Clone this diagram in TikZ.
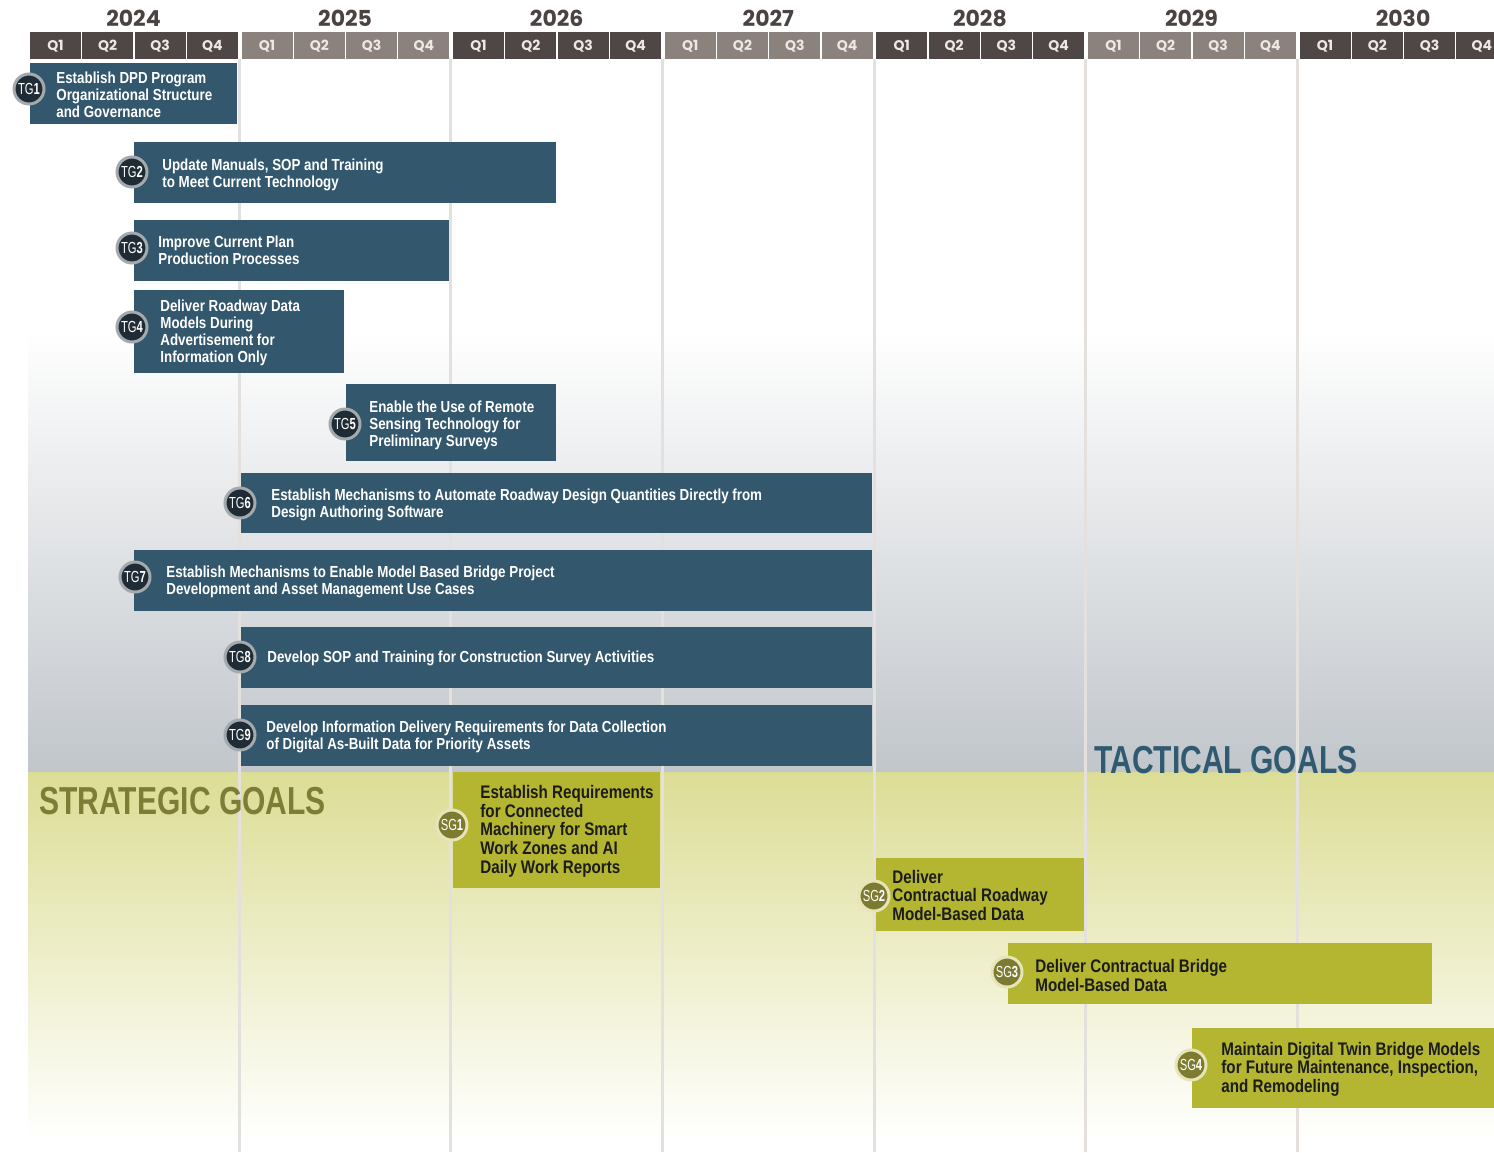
\documentclass[tikz,border=0pt]{standalone}
\usepackage{fontspec}
\setmainfont{Liberation Sans}
\newfontfamily\cond[FakeStretch=0.835]{Liberation Sans}
\newfontfamily\badgecond[FakeStretch=0.7]{Liberation Sans}
\newfontfamily\titlecond[FakeStretch=0.77]{Liberation Sans}
\newfontfamily\yearfont{Poppins}
\definecolor{tgblue}{HTML}{33576D}
\definecolor{sgolive}{HTML}{B4B631}
\definecolor{qdark}{HTML}{4E4745}
\definecolor{qlight}{HTML}{8B827E}
\definecolor{yeartext}{HTML}{4A4341}
\definecolor{tgbadgefill}{HTML}{1F2C35}
\definecolor{tgring}{HTML}{A3A9AD}
\definecolor{sgbadgefill}{HTML}{7D7B30}
\definecolor{sgring}{HTML}{E6E4B8}
\definecolor{greyband}{HTML}{C1C6CB}
\definecolor{yellowband}{HTML}{DCDD95}
\definecolor{gridcol}{HTML}{E3E0DD}
\definecolor{tacticalcol}{HTML}{2F5A70}
\definecolor{strategiccol}{HTML}{7E7D35}
\definecolor{sgtextcol}{HTML}{1C1C1C}
\definecolor{qtext}{HTML}{EDE8E4}
\tikzset{
  tgbar/.style={fill=tgblue},
  sgbar/.style={fill=sgolive},
  gridline/.style={draw=gridcol, line width=1.5pt},
  tgtext/.style={anchor=west, align=left, text=white, inner sep=0pt, yshift=-0.8pt,
    font=\cond\bfseries\fontsize{8}{8.5}\selectfont},
  sgtext/.style={anchor=west, align=left, text=sgtextcol, inner sep=0pt, yshift=-0.6pt,
    font=\cond\bfseries\fontsize{9.1}{9.3}\selectfont},
  tgbadge/.style={circle, fill=tgbadgefill, draw=tgring, line width=1.5pt,
    minimum size=15pt, inner sep=0pt, text=white, font=\badgecond\fontsize{8}{8}\selectfont},
  sgbadge/.style={circle, fill=sgbadgefill, draw=sgring, line width=1.5pt,
    minimum size=15pt, inner sep=0pt, text=white, font=\badgecond\fontsize{8}{8}\selectfont},
  qcell/.style={anchor=north west, minimum width=25.5pt, minimum height=13.5pt,
    inner sep=0pt, text=qtext, font=\yearfont\bfseries\fontsize{7}{7}\selectfont},
  yearlabel/.style={text=yeartext, inner sep=0pt, font=\yearfont\bfseries\fontsize{11}{11}\selectfont},
  bigtitle/.style={anchor=west, inner sep=0pt, font=\titlecond\bfseries\fontsize{19.5}{19.5}\selectfont}
}
\begin{document}
\begin{tikzpicture}[x=0.5pt,y=-0.5pt]
\useasboundingbox (0,0) rectangle (1494,1152);
\clip (0,0) rectangle (1494,1152);
% backgrounds
\fill[white] (0,0) rectangle (1494,1152);
\shade[top color=white, bottom color=greyband] (28,330) rectangle (1494,772);
\shade[top color=yellowband, bottom color=white] (28,772) rectangle (1494,1140);
% grid lines
\foreach \k in {1,...,6} {
  \draw[gridline] ({29.5+211.6*\k-1.8},59) -- ({29.5+211.6*\k-1.8},1152);
}
% header
\foreach \yr/\c [count=\k from 0] in {2024/qdark,2025/qlight,2026/qdark,2027/qlight,2028/qdark,2029/qlight,2030/qdark} {
  \node[yearlabel] (y\yr) at ({29.5+211.6*\k+104},18) {\yr};
  \foreach \q in {1,2,3,4} {
    \node[qcell, fill=\c] (q\yr-\q) at ({29.5+211.6*\k+52.3*(\q-1)},32) {Q\q};
  }
}
% tactical goals
\fill[tgbar] (30,63) rectangle (237,124);
\node[tgtext] (t1) at (56,93) {Establish DPD Program\\Organizational Structure\\and Governance};
\node[tgbadge] (b1) at (29,89) {TG\textbf{1}};

\fill[tgbar] (134,142) rectangle (556,203);
\node[tgtext] (t2) at (162,173) {Update Manuals, SOP and Training\\to Meet Current Technology};
\node[tgbadge] (b2) at (132,172) {TG\textbf{2}};

\fill[tgbar] (134,220) rectangle (449,281);
\node[tgtext] (t3) at (158,249) {Improve Current Plan\\Production Processes};
\node[tgbadge] (b3) at (132,248) {TG\textbf{3}};

\fill[tgbar] (134,290) rectangle (344,373);
\node[tgtext] (t4) at (160,331) {Deliver Roadway Data\\Models During\\Advertisement for\\Information Only};
\node[tgbadge] (b4) at (132,327) {TG\textbf{4}};

\fill[tgbar] (346,384) rectangle (556,461);
\node[tgtext] (t5) at (369,424) {Enable the Use of Remote\\Sensing Technology for\\Preliminary Surveys};
\node[tgbadge] (b5) at (345,424) {TG\textbf{5}};

\fill[tgbar] (241,473) rectangle (872,533);
\node[tgtext] (t6) at (271,503) {Establish Mechanisms to Automate Roadway Design Quantities Directly from\\Design Authoring Software};
\node[tgbadge] (b6) at (240,503) {TG\textbf{6}};

\fill[tgbar] (134,550) rectangle (872,611);
\node[tgtext] (t7) at (166,580) {Establish Mechanisms to Enable Model Based Bridge Project\\Development and Asset Management Use Cases};
\node[tgbadge] (b7) at (135,577) {TG\textbf{7}};

\fill[tgbar] (241,627) rectangle (872,688);
\node[tgtext] (t8) at (267,657) {Develop SOP and Training for Construction Survey Activities};
\node[tgbadge] (b8) at (240,657) {TG\textbf{8}};

\fill[tgbar] (241,705) rectangle (872,766);
\node[tgtext] (t9) at (266,735) {Develop Information Delivery Requirements for Data Collection\\of Digital As-Built Data for Priority Assets};
\node[tgbadge] (b9) at (240,735) {TG\textbf{9}};

% strategic goals
\fill[sgbar] (453,772) rectangle (660,888);
\node[sgtext] (s1) at (480,830) {Establish Requirements\\for Connected\\Machinery for Smart\\Work Zones and AI\\Daily Work Reports};
\node[sgbadge] (c1) at (452,825) {SG\textbf{1}};

\fill[sgbar] (876,858) rectangle (1084,931);
\node[sgtext] (s2) at (892,894) {Deliver\\Contractual Roadway\\Model-Based Data};
\node[sgbadge] (c2) at (874,896) {SG\textbf{2}};

\fill[sgbar] (1008,943) rectangle (1432,1004);
\node[sgtext] (s3) at (1035,974) {Deliver Contractual Bridge\\Model-Based Data};
\node[sgbadge] (c3) at (1007,972) {SG\textbf{3}};

\fill[sgbar] (1192,1028) rectangle (1494,1108);
\node[sgtext] (s4) at (1221,1068) {Maintain Digital Twin Bridge Models\\for Future Maintenance, Inspection,\\and Remodeling};
\node[sgbadge] (c4) at (1191,1065) {SG\textbf{4}};

% titles
\node[bigtitle, text=tacticalcol] (tactical) at (1094,760) {TACTICAL GOALS};
\node[bigtitle, text=strategiccol] (strategic) at (39,801) {STRATEGIC GOALS};
\end{tikzpicture}
\end{document}
